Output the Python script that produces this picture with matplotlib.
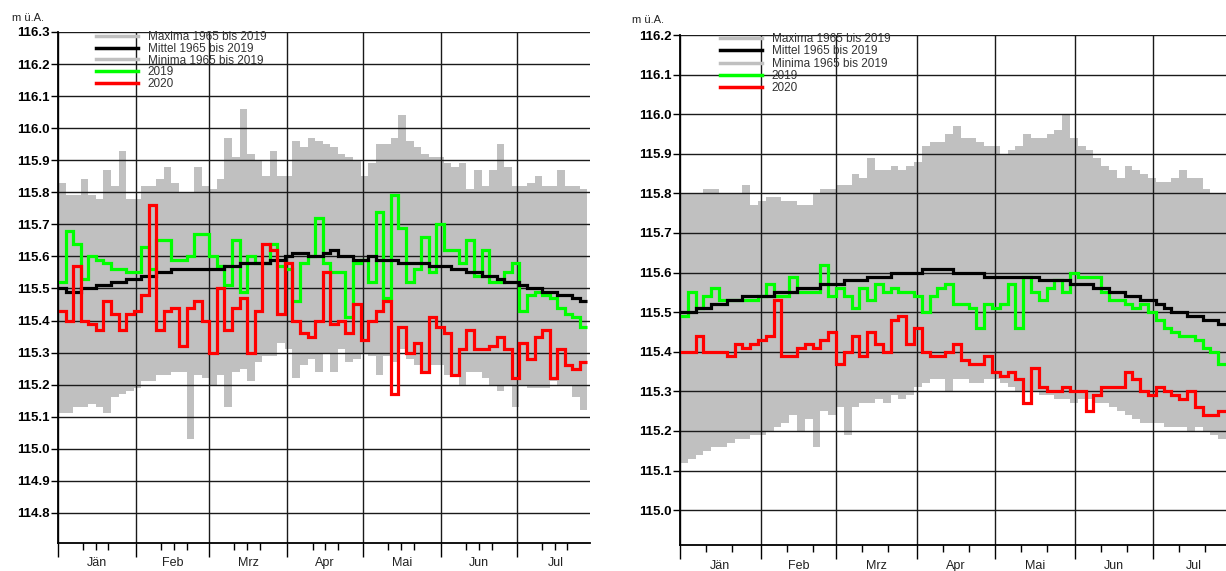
import numpy as np
import matplotlib
matplotlib.use('Agg')
import matplotlib.pyplot as plt
from matplotlib.lines import Line2D
from matplotlib.transforms import blended_transform_factory

plt.rcParams['font.family'] = ['Liberation Sans', 'DejaVu Sans']

# ---------------- data ----------------
months = ['Jän', 'Feb', 'Mrz', 'Apr', 'Mai', 'Jun', 'Jul']
month_start = [0, 31, 60, 91, 121, 152, 182]
month_len = [31, 29, 31, 30, 31, 30, 31]
step_days = 3          # one value every 3 days, starting 1 Jan
labels = ['Maxima 1965 bis 2019', 'Mittel 1965 bis 2019', 'Minima 1965 bis 2019', '2019', '2020']

# left chart
L_max = [115.83, 115.79, 115.79, 115.84, 115.79, 115.78, 115.87, 115.82, 115.93, 115.78,
         115.78, 115.82, 115.82, 115.84, 115.88, 115.83, 115.80, 115.80, 115.88, 115.82,
         115.81, 115.84, 115.97, 115.91, 116.06, 115.92, 115.90, 115.85, 115.93, 115.85,
         115.85, 115.96, 115.94, 115.97, 115.96, 115.95, 115.94, 115.92, 115.91, 115.90,
         115.85, 115.89, 115.95, 115.95, 115.97, 116.04, 115.96, 115.94, 115.92, 115.91,
         115.91, 115.89, 115.88, 115.89, 115.81, 115.87, 115.82, 115.87, 115.95, 115.88,
         115.82, 115.82, 115.83, 115.85, 115.82, 115.82, 115.87, 115.82, 115.82, 115.81]
L_mean = [115.50, 115.49, 115.49, 115.50, 115.50, 115.51, 115.51, 115.52, 115.52, 115.53,
          115.53, 115.54, 115.54, 115.55, 115.55, 115.56, 115.56, 115.56, 115.56, 115.56,
          115.56, 115.56, 115.57, 115.57, 115.58, 115.58, 115.58, 115.58, 115.59, 115.59,
          115.60, 115.61, 115.61, 115.60, 115.60, 115.61, 115.62, 115.60, 115.60, 115.59,
          115.59, 115.60, 115.59, 115.59, 115.59, 115.58, 115.58, 115.58, 115.58, 115.57,
          115.57, 115.57, 115.56, 115.56, 115.55, 115.55, 115.54, 115.54, 115.53, 115.52,
          115.52, 115.51, 115.50, 115.50, 115.49, 115.49, 115.48, 115.48, 115.47, 115.46]
L_min = [115.11, 115.11, 115.13, 115.13, 115.14, 115.13, 115.11, 115.16, 115.17, 115.18,
         115.19, 115.21, 115.21, 115.23, 115.23, 115.24, 115.24, 115.03, 115.23, 115.22,
         115.20, 115.23, 115.13, 115.24, 115.25, 115.21, 115.27, 115.29, 115.29, 115.33,
         115.31, 115.22, 115.26, 115.28, 115.24, 115.30, 115.24, 115.31, 115.27, 115.28,
         115.30, 115.29, 115.23, 115.29, 115.27, 115.31, 115.28, 115.26, 115.24, 115.26,
         115.26, 115.23, 115.23, 115.20, 115.24, 115.24, 115.22, 115.20, 115.18, 115.20,
         115.13, 115.20, 115.19, 115.19, 115.19, 115.21, 115.20, 115.20, 115.16, 115.12]
L_2019 = [115.52, 115.68, 115.64, 115.53, 115.60, 115.59, 115.58, 115.56, 115.56, 115.55,
          115.55, 115.63, 115.56, 115.65, 115.65, 115.59, 115.59, 115.60, 115.67, 115.67,
          115.60, 115.57, 115.51, 115.65, 115.49, 115.60, 115.58, 115.58, 115.64, 115.57,
          115.56, 115.46, 115.58, 115.60, 115.72, 115.58, 115.55, 115.55, 115.41, 115.58,
          115.59, 115.52, 115.74, 115.47, 115.79, 115.69, 115.52, 115.56, 115.66, 115.55,
          115.70, 115.62, 115.62, 115.58, 115.65, 115.54, 115.62, 115.52, 115.52, 115.55,
          115.58, 115.43, 115.48, 115.49, 115.48, 115.47, 115.44, 115.42, 115.41, 115.38]
L_2020 = [115.43, 115.40, 115.57, 115.40, 115.39, 115.37, 115.46, 115.42, 115.37, 115.42,
          115.43, 115.48, 115.76, 115.37, 115.43, 115.44, 115.32, 115.44, 115.46, 115.40,
          115.30, 115.50, 115.37, 115.44, 115.47, 115.30, 115.43, 115.64, 115.62, 115.42,
          115.58, 115.40, 115.36, 115.35, 115.40, 115.55, 115.39, 115.40, 115.36, 115.45,
          115.34, 115.40, 115.43, 115.46, 115.17, 115.38, 115.30, 115.33, 115.24, 115.41,
          115.38, 115.36, 115.23, 115.31, 115.37, 115.31, 115.31, 115.32, 115.35, 115.31,
          115.22, 115.33, 115.28, 115.35, 115.37, 115.22, 115.31, 115.26, 115.25, 115.27]
L_yticks = [114.8, 114.9, 115.0, 115.1, 115.2, 115.3, 115.4, 115.5, 115.6, 115.7,
            115.8, 115.9, 116.0, 116.1, 116.2, 116.3]

# right chart
R_max = [115.80, 115.80, 115.80, 115.81, 115.81, 115.80, 115.80, 115.80, 115.82, 115.77,
         115.78, 115.79, 115.79, 115.78, 115.78, 115.77, 115.77, 115.80, 115.81, 115.81,
         115.82, 115.82, 115.85, 115.84, 115.89, 115.86, 115.86, 115.87, 115.86, 115.87,
         115.88, 115.92, 115.93, 115.93, 115.95, 115.97, 115.94, 115.94, 115.93, 115.92,
         115.92, 115.90, 115.91, 115.92, 115.95, 115.94, 115.94, 115.95, 115.96, 116.00,
         115.94, 115.92, 115.91, 115.89, 115.87, 115.86, 115.84, 115.87, 115.86, 115.85,
         115.84, 115.83, 115.83, 115.84, 115.86, 115.84, 115.84, 115.81, 115.80, 115.80]
R_mean = [115.50, 115.50, 115.51, 115.51, 115.52, 115.52, 115.53, 115.53, 115.54, 115.54,
          115.54, 115.54, 115.55, 115.55, 115.55, 115.56, 115.56, 115.56, 115.57, 115.57,
          115.57, 115.58, 115.58, 115.58, 115.59, 115.59, 115.59, 115.60, 115.60, 115.60,
          115.60, 115.61, 115.61, 115.61, 115.61, 115.60, 115.60, 115.60, 115.60, 115.59,
          115.59, 115.59, 115.59, 115.59, 115.59, 115.59, 115.58, 115.58, 115.58, 115.58,
          115.57, 115.57, 115.57, 115.56, 115.56, 115.55, 115.55, 115.54, 115.54, 115.53,
          115.53, 115.52, 115.51, 115.50, 115.50, 115.49, 115.49, 115.48, 115.48, 115.47]
R_min = [115.12, 115.13, 115.14, 115.15, 115.16, 115.16, 115.17, 115.18, 115.18, 115.19,
         115.19, 115.20, 115.21, 115.22, 115.24, 115.20, 115.23, 115.16, 115.25, 115.24,
         115.26, 115.19, 115.26, 115.27, 115.27, 115.28, 115.27, 115.29, 115.28, 115.29,
         115.31, 115.32, 115.33, 115.33, 115.30, 115.33, 115.33, 115.32, 115.32, 115.33,
         115.33, 115.32, 115.31, 115.30, 115.30, 115.30, 115.29, 115.29, 115.28, 115.28,
         115.27, 115.28, 115.28, 115.27, 115.27, 115.26, 115.25, 115.24, 115.23, 115.22,
         115.22, 115.22, 115.21, 115.21, 115.21, 115.20, 115.21, 115.20, 115.19, 115.18]
R_2019 = [115.49, 115.55, 115.51, 115.54, 115.56, 115.53, 115.53, 115.53, 115.53, 115.53,
          115.54, 115.57, 115.54, 115.54, 115.59, 115.55, 115.55, 115.55, 115.62, 115.54,
          115.56, 115.54, 115.51, 115.56, 115.53, 115.57, 115.55, 115.56, 115.55, 115.55,
          115.54, 115.50, 115.54, 115.56, 115.57, 115.52, 115.52, 115.51, 115.46, 115.52,
          115.51, 115.52, 115.57, 115.46, 115.59, 115.55, 115.53, 115.56, 115.58, 115.55,
          115.60, 115.59, 115.59, 115.59, 115.55, 115.53, 115.53, 115.52, 115.51, 115.52,
          115.50, 115.48, 115.46, 115.45, 115.44, 115.44, 115.43, 115.41, 115.40, 115.37]
R_2020 = [115.40, 115.40, 115.44, 115.40, 115.40, 115.40, 115.39, 115.42, 115.41, 115.42,
          115.43, 115.44, 115.53, 115.39, 115.39, 115.41, 115.42, 115.41, 115.43, 115.45,
          115.37, 115.40, 115.44, 115.39, 115.45, 115.42, 115.40, 115.48, 115.49, 115.42,
          115.46, 115.40, 115.39, 115.39, 115.40, 115.42, 115.38, 115.37, 115.37, 115.39,
          115.35, 115.34, 115.35, 115.33, 115.27, 115.36, 115.31, 115.30, 115.30, 115.31,
          115.30, 115.30, 115.25, 115.29, 115.31, 115.31, 115.31, 115.35, 115.33, 115.30,
          115.29, 115.31, 115.30, 115.29, 115.28, 115.30, 115.26, 115.24, 115.24, 115.25]
R_yticks = [115.0, 115.1, 115.2, 115.3, 115.4, 115.5, 115.6, 115.7, 115.8, 115.9,
            116.0, 116.1, 116.2]

# ---------------- styles ----------------
C_BAND = '#c0c0c0'
C_MEAN = '#000000'
C_2019 = '#00ff00'
C_2020 = '#ff0000'
C_GRID = '#1a1a1a'


def draw_panel(ax, vmax, vmean, vmin, v19, v20, yticks, ylim, xlim, minor_offsets,
               leg_anchor, leg_spacing, ylab_pos, mlabel_y):
    edges = np.arange(0, step_days * len(vmax) + 1, step_days)
    ax.stairs(vmax, edges, baseline=vmin, fill=True, color=C_BAND, lw=0, zorder=1)
    ax.stairs(v19, edges, baseline=None, color=C_2019, lw=2.3, zorder=3)
    ax.stairs(vmean, edges, baseline=None, color=C_MEAN, lw=2.3, zorder=4)
    ax.stairs(v20, edges, baseline=None, color=C_2020, lw=2.3, zorder=5)

    ax.set_xlim(*xlim)
    ax.set_ylim(*ylim)
    ax.set_yticks(yticks)
    ax.set_yticklabels([f'{t:.1f}' for t in yticks], fontsize=9.5, fontweight='bold')
    ax.set_xticks(month_start)
    ax.set_xticklabels([])
    minors = [s + o for s in month_start for o in minor_offsets if s + o < xlim[1]]
    ax.set_xticks(minors, minor=True)
    ax.tick_params(axis='y', direction='out', length=5, width=1, pad=1, colors='black')
    ax.tick_params(axis='x', which='major', direction='out', length=10, width=1)
    ax.tick_params(axis='x', which='minor', direction='out', length=5, width=1)

    ax.set_axisbelow('line')
    ax.grid(True, which='major', color=C_GRID, lw=1.0)
    for s in ['top', 'right']:
        ax.spines[s].set_visible(False)
    for s in ['left', 'bottom']:
        ax.spines[s].set_linewidth(1.3)
        ax.spines[s].set_color('black')
        ax.spines[s].set_zorder(6)

    trans = blended_transform_factory(ax.transData, ax.transAxes)
    for m, s, n in zip(months, month_start, month_len):
        ax.text(s + n / 2, mlabel_y, m, transform=trans, ha='center', va='center',
                fontsize=9, color='#222222')

    ax.text(ylab_pos[0], ylab_pos[1], 'm ü.A.', transform=ax.transAxes,
            fontsize=8, ha='left', va='center', color='#222222')

    handles = [Line2D([], [], color=C_BAND, lw=2.5),
               Line2D([], [], color=C_MEAN, lw=2.5),
               Line2D([], [], color=C_BAND, lw=2.5),
               Line2D([], [], color=C_2019, lw=2.5),
               Line2D([], [], color=C_2020, lw=2.5)]
    leg = ax.legend(handles, labels, loc='upper left', bbox_to_anchor=leg_anchor,
                    frameon=False, fontsize=8.5, handlelength=3.6, handletextpad=0.8,
                    labelspacing=leg_spacing, borderpad=0, borderaxespad=0)
    for t in leg.get_texts():
        t.set_color('#333333')
    leg.set_zorder(7)


fig = plt.figure(figsize=(12.26, 5.71), dpi=100)
W, H = 1226, 571

axL = fig.add_axes([58 / W, 1 - 543 / H, 532 / W, (543 - 32) / H])
draw_panel(axL, L_max, L_mean, L_min, L_2019, L_2020, L_yticks, (114.706, 116.3),
           (0, 211), [10, 15, 20], (0.0714, 1.002), -0.02, (-0.086, 1.027), -0.039)

axR = fig.add_axes([680 / W, 1 - 545 / H, 546 / W, (545 - 35) / H])
draw_panel(axR, R_max, R_mean, R_min, R_2019, R_2020, R_yticks, (114.912, 116.2),
           (0, 210), [10, 20], (0.073, 1.004), 0.03, (-0.088, 1.03), -0.041)

fig.savefig('out.png', dpi=100, facecolor='white')
